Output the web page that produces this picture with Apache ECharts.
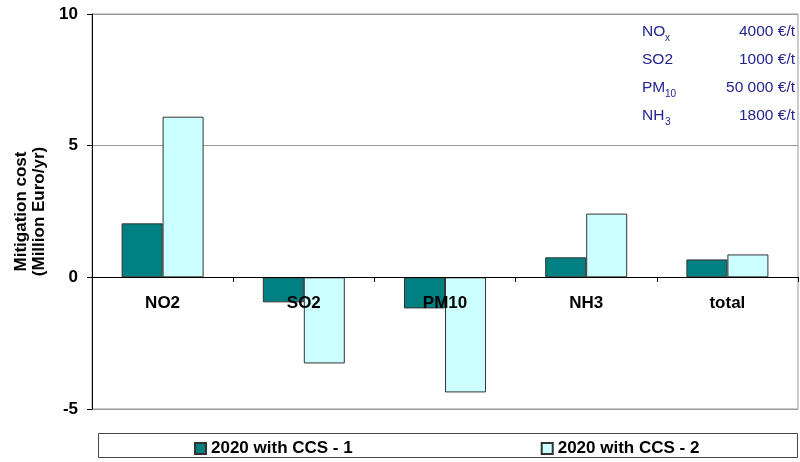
<!DOCTYPE html>
<html><head><meta charset="utf-8">
<script src="https://cdn.jsdelivr.net/npm/echarts@6/dist/echarts.min.js"></script>
<style>html,body{margin:0;padding:0;background:#fff}#c{width:800px;height:462px}</style>
</head><body><div id="c"></div>
<script>
var categories = ['NO2', 'SO2', 'PM10', 'NH3', 'total'];
var series1Name = '2020 with CCS - 1';
var series2Name = '2020 with CCS - 2';
var series1 = [2.05, -0.95, -1.18, 0.76, 0.68];
var series2 = [6.1, -3.27, -4.37, 2.42, 0.87];
var yTicks = [-5, 0, 5, 10];
var costNames = [['NO', 'x'], ['SO2', ''], ['PM', '10'], ['NH', '3']];
var costValues = ['4000 €/t', '1000 €/t', '50 000 €/t', '1800 €/t'];

var chart = echarts.init(document.getElementById('c'));
var navy = '#24248f';
var font = 'Liberation Sans, Arial, sans-serif';
var graphics = [
  {type: 'rect', shape: {x: 98.5, y: 433.5, width: 699, height: 24}, style: {fill: 'none', stroke: '#444', lineWidth: 1}, z: 0}
];
var rowY = [32, 60, 88, 116];
costNames.forEach(function (n, i) {
  graphics.push({type: 'text', left: 642, top: rowY[i] - 8, style: {text: n[0], fill: navy, font: '15.5px ' + font}, z: 10});
});
var subX = [665, 0, 665, 665];
costNames.forEach(function (n, i) {
  if (n[1]) graphics.push({type: 'text', left: subX[i], top: rowY[i] + 1, style: {text: n[1], fill: navy, font: '10px ' + font}, z: 10});
});
costValues.forEach(function (v, i) {
  graphics.push({type: 'text', right: 5, top: rowY[i] - 8, style: {text: v, fill: navy, font: '15.5px ' + font, align: 'right'}, z: 10});
});

chart.setOption({
  animation: false,
  grid: {left: 92, right: 2, top: 14, bottom: 53, show: true, borderColor: '#999', borderWidth: 1},
  legend: {
    left: 189, top: 435, itemWidth: 11, itemHeight: 11, itemGap: 188,
    textStyle: {fontFamily: font, fontSize: 17, fontWeight: 'bold', color: '#000'},
    data: [series1Name, series2Name],
    icon: 'rect'
  },
  xAxis: {
    type: 'category', data: categories, z: 10, offset: -132,
    axisLine: {onZero: false, lineStyle: {color: '#000', width: 1}},
    axisTick: {show: true, inside: false, length: 5, alignWithLabel: false, lineStyle: {color: '#000'}},
    axisLabel: {margin: 18, fontFamily: font, fontSize: 17, fontWeight: 'bold', color: '#000'},
    splitLine: {show: false}
  },
  yAxis: {
    type: 'value', min: -5, max: 10, interval: 5,
    name: 'Mitigation cost\n(Million Euro/yr)', nameLocation: 'middle', nameRotate: 90, nameGap: 43,
    nameTextStyle: {fontFamily: font, fontSize: 17, fontWeight: 'bold', color: '#000', lineHeight: 18},
    axisLine: {show: true, lineStyle: {color: '#000'}},
    axisTick: {show: true, length: 5, lineStyle: {color: '#000'}},
    axisLabel: {margin: 14, fontFamily: font, fontSize: 17, fontWeight: 'bold', color: '#000',
      formatter: function (v) { return yTicks.indexOf(v) >= 0 ? String(v) : ''; }},
    splitLine: {show: true, lineStyle: {color: '#999', width: 1}}
  },
  series: [
    {name: series1Name, type: 'bar', data: series1, barWidth: 41, barGap: '0%',
     itemStyle: {color: '#008080', borderColor: '#333', borderWidth: 1}},
    {name: series2Name, type: 'bar', data: series2, barWidth: 41, barGap: '0%',
     itemStyle: {color: '#ccffff', borderColor: '#333', borderWidth: 1}}
  ],
  graphic: graphics
});
</script></body></html>
